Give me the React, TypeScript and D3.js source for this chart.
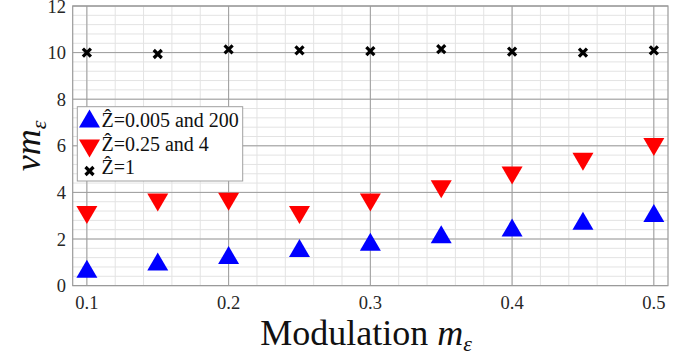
import React from "react";
import * as d3 from "d3";

// modulation values (x)
const modulation = [0.1, 0.15, 0.2, 0.25, 0.3, 0.35, 0.4, 0.45, 0.5];
// series
const zSmallLarge = [0.72, 1.03, 1.31, 1.61, 1.88, 2.2, 2.49, 2.78, 3.12];
const zQuarterFour = [3.03, 3.57, 3.6, 3.03, 3.57, 4.14, 4.72, 5.32, 5.95];
const zOne = [10.0, 9.94, 10.14, 10.1, 10.06, 10.15, 10.04, 10.0, 10.1];

const xTicks = [0.1, 0.2, 0.3, 0.4, 0.5];
const yTicks = [0, 2, 4, 6, 8, 10, 12];
const legendLabels = ["Ẑ=0.005 and 200", "Ẑ=0.25 and 4", "Ẑ=1"];

const W = 695;
const H = 358;
const margin = { left: 72.7, right: 27, top: 6, bottom: 72.4 };
const font = "Liberation Serif";

const triUp = (cx: number, cy: number, w = 21, h = 18) =>
  `M${cx - w / 2},${cy + h / 2}L${cx + w / 2},${cy + h / 2}L${cx},${cy - h / 2}Z`;
const triDown = (cx: number, cy: number, w = 21, h = 18) =>
  `M${cx - w / 2},${cy - h / 2}L${cx + w / 2},${cy - h / 2}L${cx},${cy + h / 2}Z`;

const Cross = ({ x, y, s = 4 }: { x: number; y: number; s?: number }) => (
  <path
    d={`M${x - s},${y - s}L${x + s},${y + s}M${x - s},${y + s}L${x + s},${y - s}`}
    stroke="#000"
    strokeWidth={3.2}
  />
);

export default function App() {
  const x = d3
    .scaleLinear()
    .domain([0.09, 0.51])
    .range([margin.left, W - margin.right]);
  const y = d3
    .scaleLinear()
    .domain([0, 12])
    .range([H - margin.bottom, margin.top]);

  const xMinor = d3.range(0.1, 0.51, 0.02);
  const yMinor = d3.range(0, 12.01, 0.4);

  const [x0, x1] = x.range();
  const [y0, y1] = y.range();

  return (
    <svg
      width={W}
      height={H}
      style={{ position: "absolute", left: 0, top: 0, background: "#fff", fontFamily: font }}
    >
      {/* minor grid */}
      <g stroke="#e3e3e3" strokeWidth={1}>
        {xMinor.map((v, i) => (
          <line key={"xm" + i} x1={x(v)} x2={x(v)} y1={y0} y2={y1} />
        ))}
        {yMinor.map((v, i) => (
          <line key={"ym" + i} x1={x0} x2={x1} y1={y(v)} y2={y(v)} />
        ))}
      </g>
      {/* major grid */}
      <g stroke="#9c9c9c" strokeWidth={1}>
        {xTicks.map((v) => (
          <line key={"x" + v} x1={x(v)} x2={x(v)} y1={y0} y2={y1} />
        ))}
        {yTicks.map((v) => (
          <line key={"y" + v} x1={x0} x2={x1} y1={y(v)} y2={y(v)} />
        ))}
      </g>
      <rect
        x={x0}
        y={y1}
        width={x1 - x0}
        height={y0 - y1}
        fill="none"
        stroke="#9a9a9a"
        strokeWidth={1.2}
      />

      {/* tick labels */}
      <g fill="#262626" style={{ fontSize: 18.5, fontFamily: font }}>
        {xTicks.map((v) => (
          <text key={"xt" + v} x={x(v)} y={308.5} textAnchor="middle">
            {v.toFixed(1)}
          </text>
        ))}
        {yTicks.map((v) => (
          <text key={"yt" + v} x={66} y={y(v) + 6.5} textAnchor="end">
            {v}
          </text>
        ))}
      </g>

      {/* markers */}
      {modulation.map((m, i) => (
        <g key={"p" + i}>
          <path d={triUp(x(m), y(zSmallLarge[i]))} fill="#0000ff" />
          <path d={triDown(x(m), y(zQuarterFour[i]))} fill="#ff0000" />
          <Cross x={x(m)} y={y(zOne[i])} />
        </g>
      ))}

      {/* legend */}
      <g>
        <rect x={77.3} y={106.7} width={165.4} height={74.3} fill="#fff" stroke="#a0a0a0" strokeWidth={1} />
        <path d={triUp(89.5, 118.5)} fill="#0000ff" />
        <path d={triDown(89.5, 148.5)} fill="#ff0000" />
        <Cross x={89.5} y={171} />
        {legendLabels.map((t, i) => (
          <text key={t} x={101.5} y={127 + i * 23.5} fill="#111" style={{ fontSize: 20, fontFamily: font }}>
            {t}
          </text>
        ))}
      </g>

      {/* axis labels */}
      <text x={366} y={345} textAnchor="middle" fill="#111" style={{ fontSize: 36, fontFamily: font }}>
        Modulation{" "}
        <tspan fontStyle="italic">m</tspan>
        <tspan fontStyle="italic" fontSize={22} dy={6}>
          ε
        </tspan>
      </text>
      <text
        transform="translate(40,146) rotate(-90)"
        textAnchor="middle"
        fill="#111"
        style={{ fontSize: 36, fontFamily: font }}
      >
        <tspan fontStyle="italic">νm</tspan>
        <tspan fontStyle="italic" fontSize={22} dy={6}>
          ε
        </tspan>
      </text>
    </svg>
  );
}
